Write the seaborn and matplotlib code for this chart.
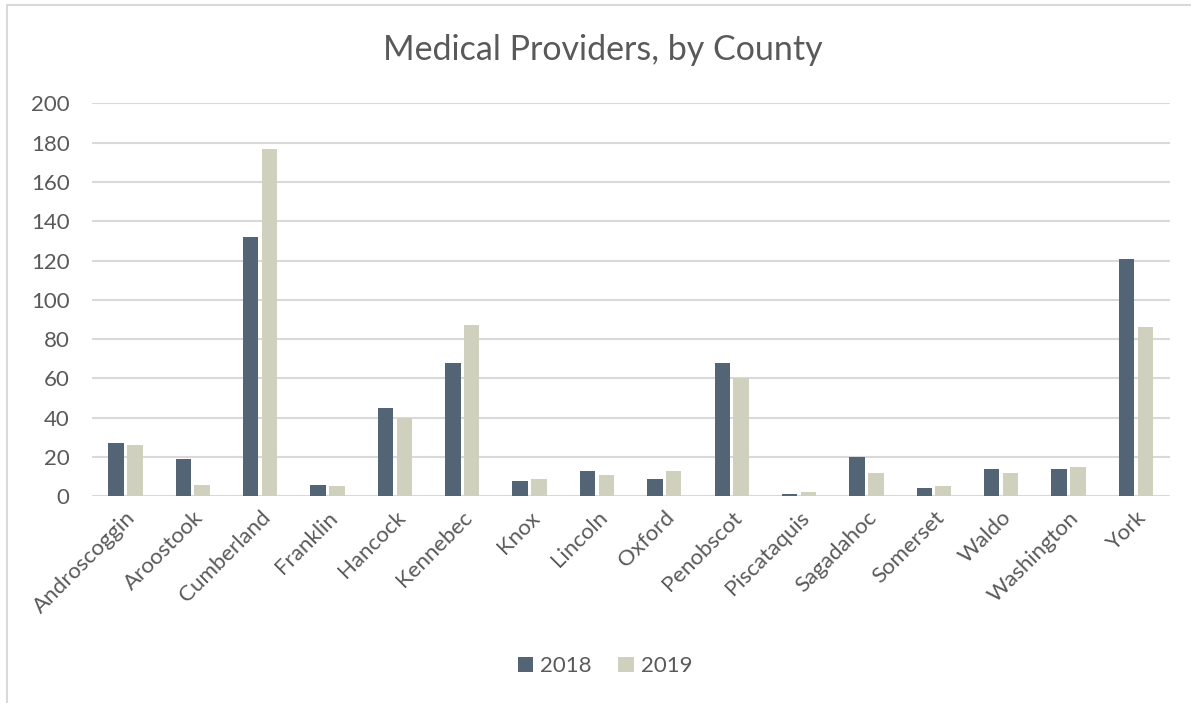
import matplotlib
matplotlib.use("Agg")
import matplotlib.pyplot as plt
import seaborn as sns
import pandas as pd
from matplotlib.patches import Rectangle

counties = ["Androscoggin", "Aroostook", "Cumberland", "Franklin", "Hancock", "Kennebec",
            "Knox", "Lincoln", "Oxford", "Penobscot", "Piscataquis", "Sagadahoc",
            "Somerset", "Waldo", "Washington", "York"]
values_2018 = [27, 19, 132, 6, 45, 68, 8, 13, 9, 68, 1, 20, 4, 14, 14, 121]
values_2019 = [26, 6, 177, 5, 40, 87, 9, 11, 13, 60, 2, 12, 5, 12, 15, 86]
years = ["2018", "2019"]
colors = ["#536474", "#CFD1BE"]
yticks = [0, 20, 40, 60, 80, 100, 120, 140, 160, 180, 200]

df = pd.DataFrame({
    "County": counties * 2,
    "Year": [years[0]] * len(counties) + [years[1]] * len(counties),
    "Providers": values_2018 + values_2019,
})

sns.set_theme(style="white")
plt.rcParams["font.family"] = ["Lato", "DejaVu Sans"]
text_color = "#595959"

fig = plt.figure(figsize=(11.91, 7.03), dpi=100)
ax = fig.add_axes([0.077, 0.294, 0.905, 0.559])

sns.barplot(data=df, x="County", y="Providers", hue="Year", palette=colors,
            width=0.56, gap=0.18, linewidth=0, ax=ax, saturation=1)

ax.set_ylim(0, 200)
ax.set_yticks(yticks)
ax.set_yticklabels([str(v) for v in yticks], fontsize=16, color=text_color)
ax.set_xlim(-0.5, len(counties) - 0.5)
ax.set_xticks(range(len(counties)))
ax.set_xticklabels(counties, rotation=45, ha="right", rotation_mode="anchor",
                   fontsize=16, color=text_color)
ax.tick_params(axis="x", length=0, pad=8)
ax.tick_params(axis="y", length=0, pad=16)
ax.yaxis.grid(True, color="#D9D9D9", linewidth=1.5)
ax.set_axisbelow(True)
for s in ax.spines.values():
    s.set_visible(False)
ax.set_xlabel("")
ax.set_ylabel("")

fig.text(0.506, 0.929, "Medical Providers, by County", fontsize=24.5, color=text_color,
         ha="center", va="center")

handles, labels = ax.get_legend_handles_labels()
ax.legend_.remove()
fig.legend(handles, labels, loc="center", bbox_to_anchor=(0.508, 0.052), ncol=2,
           frameon=False, fontsize=16, handlelength=0.7, handleheight=0.7,
           handletextpad=0.3, columnspacing=1.2, labelcolor=text_color)

fig.patches.append(Rectangle((0.006, -0.01), 1.2, 1.003, transform=fig.transFigure,
                             fill=False, edgecolor="#D9D9D9", linewidth=1.5, zorder=0))

fig.savefig("out.png", dpi=100)
